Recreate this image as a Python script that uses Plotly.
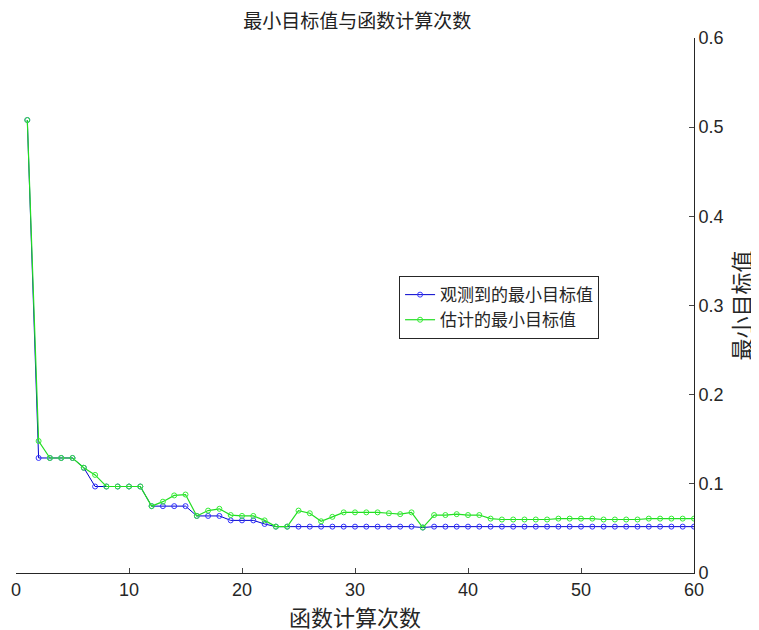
import plotly.graph_objects as go

x = list(range(1, 61))
observed = [0.508, 0.129, 0.129, 0.129, 0.129, 0.118, 0.097, 0.097, 0.097, 0.097,
            0.097, 0.075, 0.075, 0.075, 0.075, 0.064, 0.064, 0.064, 0.059, 0.059,
            0.059, 0.055, 0.052, 0.052] + [0.052] * 11 + [0.051] + [0.052] * 24
estimated = [0.508, 0.148, 0.129, 0.129, 0.129, 0.118, 0.110, 0.097, 0.097, 0.097,
             0.097, 0.075, 0.080, 0.087, 0.088, 0.064, 0.070, 0.072, 0.065, 0.064,
             0.064, 0.059, 0.052, 0.052, 0.070, 0.067, 0.058, 0.063, 0.068, 0.068,
             0.068, 0.068, 0.067, 0.066, 0.068, 0.051, 0.065, 0.065, 0.066, 0.065,
             0.065, 0.061, 0.060, 0.060, 0.060, 0.060, 0.060, 0.061, 0.061, 0.061,
             0.061, 0.060, 0.060, 0.060, 0.060, 0.061, 0.061, 0.061, 0.061, 0.061]

font = "Noto Sans CJK SC"
fig = go.Figure()
fig.add_trace(go.Scatter(x=x, y=observed, mode="lines+markers", name="观测到的最小目标值",
                         line=dict(color="#0000cc", width=1),
                         marker=dict(symbol="circle-open", size=5, color="#3333ff")))
fig.add_trace(go.Scatter(x=x, y=estimated, mode="lines+markers", name="估计的最小目标值",
                         line=dict(color="#22dd22", width=1.2),
                         marker=dict(symbol="circle-open", size=5, color="#33ee33")))
fig.update_layout(
    width=759, height=630, plot_bgcolor="white", paper_bgcolor="white",
    margin=dict(l=8, r=73, t=30, b=65),
    font=dict(family=font, size=18, color="#262626"),
    title=dict(text="最小目标值与函数计算次数", x=0.46, xanchor="center", y=0.99, yanchor="top",
               font=dict(size=19, color="#222")),
    xaxis=dict(range=[0, 60], tickvals=[0, 10, 20, 30, 40, 50, 60], showgrid=False,
               showline=True, linecolor="#262626", ticks="inside", ticklen=5,
               title=dict(text="函数计算次数", standoff=4), zeroline=False, automargin=False,
               tickfont=dict(family="Liberation Sans", size=18)),
    yaxis=dict(range=[0, 0.6], dtick=0.1, side="right", showgrid=False,
               showline=True, linecolor="#262626", ticks="inside", ticklen=5,
               title=dict(text="最小目标值", standoff=10), zeroline=False, automargin=False,
               tickfont=dict(family="Liberation Sans", size=18)),
    legend=dict(x=0.565, y=0.555, xanchor="left", yanchor="top", bordercolor="#262626",
                borderwidth=1, bgcolor="white", font=dict(size=17)),
)
fig.write_html("out.html")
